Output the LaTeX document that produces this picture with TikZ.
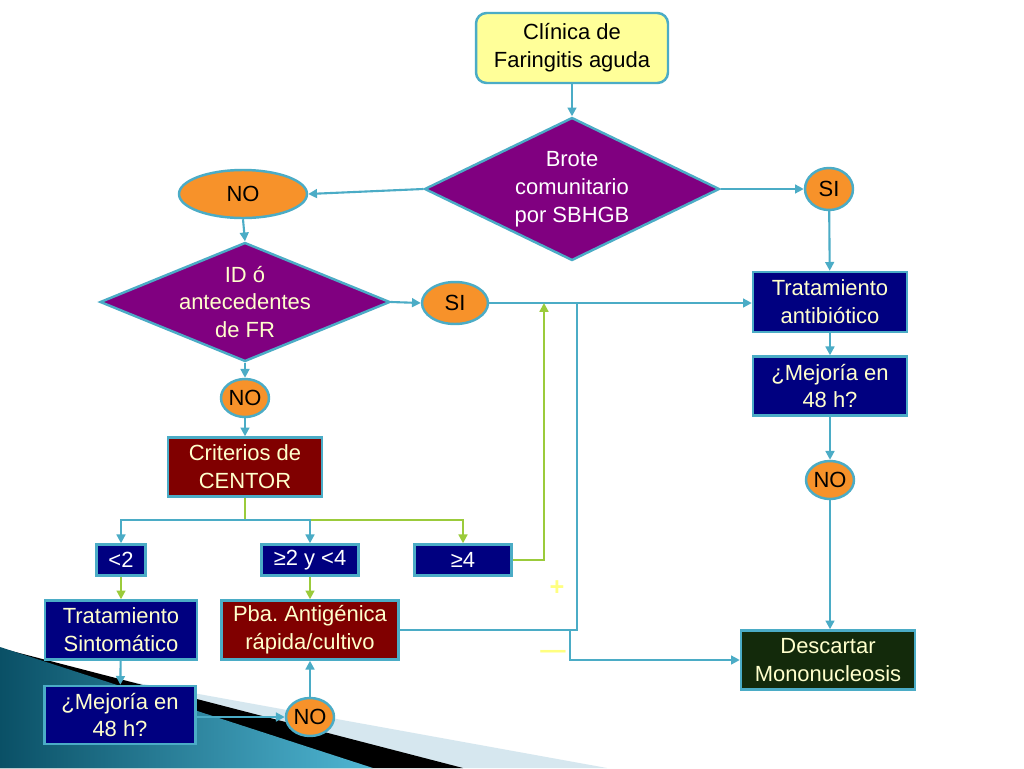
\documentclass[tikz,border=0pt]{standalone}
\usepackage{fontspec}
\setmainfont{Liberation Sans}
\usetikzlibrary{shapes.geometric,arrows.meta}
\definecolor{lineblue}{HTML}{4BACC6}
\definecolor{leafgreen}{HTML}{9BCB3B}
\definecolor{boxnavy}{HTML}{000080}
\definecolor{boxred}{HTML}{800000}
\definecolor{boxpurple}{HTML}{800080}
\definecolor{boxorange}{HTML}{F7922A}
\definecolor{boxyellow}{HTML}{FFFF99}
\definecolor{boxdark}{HTML}{132A0B}
\definecolor{cream}{HTML}{FFFFCC}
\definecolor{signyellow}{HTML}{FFFF80}
\definecolor{tealdark}{HTML}{0A5066}
\definecolor{teallight}{HTML}{4FB6D3}
\definecolor{paleband}{HTML}{D6E7EF}
\tikzset{
  >={Triangle[length=5pt,width=5pt]},
  bline/.style={draw=lineblue, line width=1.2pt},
  gline/.style={draw=leafgreen, line width=1.2pt},
  card/.style={rectangle, draw=lineblue, line width=1.4pt, inner sep=0pt,
    align=center, text=cream, font=\fontsize{12.5}{15.8}\selectfont},
  navybox/.style={card, fill=boxnavy},
  redbox/.style={card, fill=boxred},
  askbox/.style={diamond, draw=lineblue, line width=1.4pt, fill=boxpurple, inner sep=-0.2cm,
    align=center, text=cream, font=\fontsize{12.5}{15.8}\selectfont},
  answer/.style={ellipse, draw=lineblue, line width=1.4pt, fill=boxorange, inner sep=0pt,
    text=black, font=\fontsize{12.5}{15}\selectfont}
}
\begin{document}
\frenchspacing
\begin{tikzpicture}[x=0.02cm, y=-0.02cm]
  \useasboundingbox[fill=white] (0,0) rectangle (1024,768);
  % slide decoration
  \fill[paleband] (0,658) -- (607,768) -- (0,768) -- cycle;
  \fill[black] (0,648) -- (463,768) -- (0,768) -- cycle;
  \shade[left color=tealdark, right color=teallight] (0,647) -- (373,768) -- (0,768) -- cycle;

  \node[card, fill=boxyellow, text=black, rounded corners=6pt, minimum width=3.84cm, minimum height=1.40cm]
    (clinica) at (572,48) {Clínica de\\Faringitis aguda};
  \node[askbox, aspect=2.06, text=white, minimum width=5.90cm, minimum height=2.86cm]
    (brote) at (572,189) {Brote\\comunitario\\por SBHGB};
  \node[answer, minimum width=2.56cm, minimum height=0.96cm] (notop) at (243,194) {NO};
  \node[answer, minimum width=0.96cm, minimum height=0.84cm] (sitop) at (829,189) {SI};
  \node[askbox, aspect=2.44, minimum width=5.80cm, minimum height=2.38cm]
    (idfr) at (245,302) {ID ó\\antecedentes\\de FR};
  \node[answer, minimum width=1.32cm, minimum height=0.84cm] (simid) at (455,303) {SI};
  \node[answer, minimum width=0.96cm, minimum height=0.76cm] (nomid) at (245,398) {NO};
  \node[redbox, minimum width=3.08cm, minimum height=1.18cm] (centor) at (245,467) {Criterios de\\CENTOR};
  \node[navybox, text=white, minimum width=0.98cm, minimum height=0.62cm] (ltwo) at (121,560) {<2};
  \node[navybox, text=white, minimum width=1.94cm, minimum height=0.62cm] (getwo) at (310,560) {≥2 y <4};
  \node[navybox, text=white, minimum width=1.94cm, minimum height=0.62cm] (gefour) at (463,560) {≥4};
  \node[navybox, minimum width=3.04cm, minimum height=1.18cm] (sintom) at (121,630) {Tratamiento\\Sintomático};
  \node[redbox, minimum width=3.54cm, minimum height=1.18cm] (pba) at (310,630) {Pba. Antigénica\\rápida/cultivo};
  \node[navybox, minimum width=3.02cm, minimum height=1.16cm] (mejleft) at (120,715) {¿Mejoría en\\48 h?};
  \node[answer, minimum width=0.96cm, minimum height=0.76cm] (nobot) at (310,717) {NO};
  \node[navybox, minimum width=3.08cm, minimum height=1.20cm] (antibio) at (830,302) {Tratamiento\\antibiótico};
  \node[navybox, minimum width=3.08cm, minimum height=1.18cm] (mejright) at (830,386) {¿Mejoría en\\48 h?};
  \node[answer, minimum width=0.96cm, minimum height=0.76cm] (noright) at (830,480) {NO};
  \node[card, fill=boxdark, minimum width=3.48cm, minimum height=1.18cm] (descartar) at (828,660) {Descartar\\Mononucleosis};
  \node[text=signyellow, font=\Large\bfseries] (plus) at (557,588) {+};
  \node[text=signyellow, font=\Large\bfseries] (minus) at (553,654) {—};

  \coordinate (split) at (245,520);
  \coordinate (rise) at (544,303);
  \coordinate (merge) at (577,303);
  \coordinate (drop) at (570,630);

  \draw[bline, ->] (clinica) -- (brote);
  \draw[bline, ->] (brote.west) -- (notop.east);
  \draw[bline, ->] (brote.east) -- (sitop.west);
  \draw[bline, ->] (sitop) -- (antibio);
  \draw[bline, ->] (notop.south) -- (idfr.north);
  \draw[bline, ->] (idfr.east) -- (simid.west);
  \draw[bline, ->] (idfr) -- (nomid);
  \draw[bline, ->] (nomid) -- (centor);
  \draw[bline, ->] (simid.east) -- (simid.east -| antibio.west);
  \draw[bline, ->] (antibio) -- (mejright);
  \draw[bline, ->] (mejright) -- (noright);
  \draw[bline, ->] (noright) -- (noright |- descartar.north);
  \draw[gline] (centor.south) -- (split);
  \draw[gline, ->] (split) -| (gefour.north);
  \draw[bline, ->] (split) -| (ltwo.north);
  \draw[bline, ->] (split) -| (getwo.north);
  \draw[gline, ->] (ltwo) -- (sintom);
  \draw[gline, ->] (getwo) -- (pba);
  \draw[bline, ->] (sintom) -- (mejleft);
  \draw[bline, ->] (mejleft.east |- nobot) -- (nobot.west);
  \draw[bline, ->] (nobot) -- (pba);
  \draw[bline] (pba.east) -- (pba.east -| merge) -- (merge);
  \draw[bline, ->] (drop) |- (descartar.west);
  \draw[gline, ->] (gefour.east) -| (rise);
\end{tikzpicture}
\end{document}
